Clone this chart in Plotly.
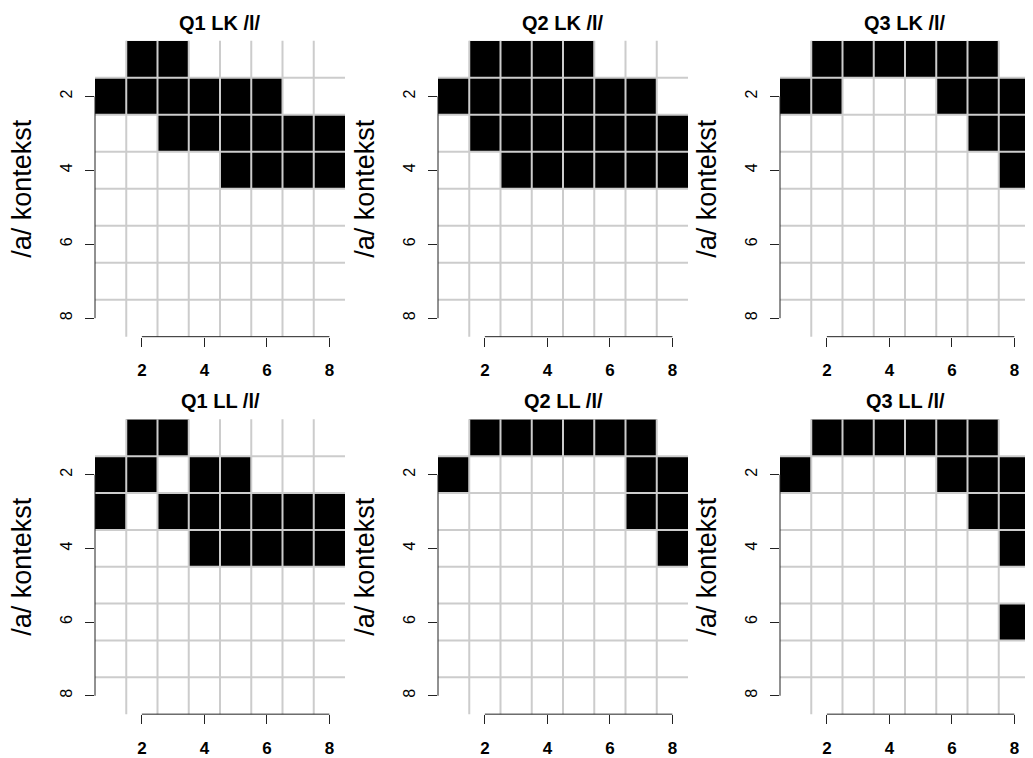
import plotly.graph_objects as go

# ---------------- data ----------------
cols = [1, 2, 3, 4, 5, 6, 7, 8]
rows = [1, 2, 3, 4, 5, 6, 7, 8]
tick_vals = [2, 4, 6, 8]
panel_titles = ["Q1 LK /l/", "Q2 LK /l/", "Q3 LK /l/",
                "Q1 LL /l/", "Q2 LL /l/", "Q3 LL /l/"]
y_title = "/a/ kontekst"

q1_lk = [
    [0, 1, 1, 0, 0, 0, 0, 0],
    [1, 1, 1, 1, 1, 1, 0, 0],
    [0, 0, 1, 1, 1, 1, 1, 1],
    [0, 0, 0, 0, 1, 1, 1, 1],
    [0, 0, 0, 0, 0, 0, 0, 0],
    [0, 0, 0, 0, 0, 0, 0, 0],
    [0, 0, 0, 0, 0, 0, 0, 0],
    [0, 0, 0, 0, 0, 0, 0, 0],
]
q2_lk = [
    [0, 1, 1, 1, 1, 0, 0, 0],
    [1, 1, 1, 1, 1, 1, 1, 0],
    [0, 1, 1, 1, 1, 1, 1, 1],
    [0, 0, 1, 1, 1, 1, 1, 1],
    [0, 0, 0, 0, 0, 0, 0, 0],
    [0, 0, 0, 0, 0, 0, 0, 0],
    [0, 0, 0, 0, 0, 0, 0, 0],
    [0, 0, 0, 0, 0, 0, 0, 0],
]
q3_lk = [
    [0, 1, 1, 1, 1, 1, 1, 0],
    [1, 1, 0, 0, 0, 1, 1, 1],
    [0, 0, 0, 0, 0, 0, 1, 1],
    [0, 0, 0, 0, 0, 0, 0, 1],
    [0, 0, 0, 0, 0, 0, 0, 0],
    [0, 0, 0, 0, 0, 0, 0, 0],
    [0, 0, 0, 0, 0, 0, 0, 0],
    [0, 0, 0, 0, 0, 0, 0, 0],
]
q1_ll = [
    [0, 1, 1, 0, 0, 0, 0, 0],
    [1, 1, 0, 1, 1, 0, 0, 0],
    [1, 0, 1, 1, 1, 1, 1, 1],
    [0, 0, 0, 1, 1, 1, 1, 1],
    [0, 0, 0, 0, 0, 0, 0, 0],
    [0, 0, 0, 0, 0, 0, 0, 0],
    [0, 0, 0, 0, 0, 0, 0, 0],
    [0, 0, 0, 0, 0, 0, 0, 0],
]
q2_ll = [
    [0, 1, 1, 1, 1, 1, 1, 0],
    [1, 0, 0, 0, 0, 0, 1, 1],
    [0, 0, 0, 0, 0, 0, 1, 1],
    [0, 0, 0, 0, 0, 0, 0, 1],
    [0, 0, 0, 0, 0, 0, 0, 0],
    [0, 0, 0, 0, 0, 0, 0, 0],
    [0, 0, 0, 0, 0, 0, 0, 0],
    [0, 0, 0, 0, 0, 0, 0, 0],
]
q3_ll = [
    [0, 1, 1, 1, 1, 1, 1, 0],
    [1, 0, 0, 0, 0, 1, 1, 1],
    [0, 0, 0, 0, 0, 0, 1, 1],
    [0, 0, 0, 0, 0, 0, 0, 1],
    [0, 0, 0, 0, 0, 0, 0, 0],
    [0, 0, 0, 0, 0, 0, 0, 1],
    [0, 0, 0, 0, 0, 0, 0, 0],
    [0, 0, 0, 0, 0, 0, 0, 0],
]
matrices = [q1_lk, q2_lk, q3_lk, q1_ll, q2_ll, q3_ll]

# ---------------- layout geometry ----------------
OFF = 8                      # default page margin of the html body
W, H = 1033 - OFF, 758 - OFF
x_px = [(95, 345), (438, 688), (780, 1030)]   # screen pixels
y_px = [(41, 338), (421, 717)]
FONT = "Liberation Sans, Arial, sans-serif"
GRID = "#cccccc"

fig = go.Figure()
layout = dict(
    width=W, height=H,
    margin=dict(l=0, r=0, t=0, b=0),
    paper_bgcolor="white", plot_bgcolor="white",
    showlegend=False,
    font=dict(family=FONT, color="black"),
)
shapes = []
annotations = []

for i, (z, title) in enumerate(zip(matrices, panel_titles)):
    r, c = divmod(i, 3)
    n = i + 1
    xa = "x" if n == 1 else f"x{n}"
    ya = "y" if n == 1 else f"y{n}"
    xkey = "xaxis" if n == 1 else f"xaxis{n}"
    ykey = "yaxis" if n == 1 else f"yaxis{n}"

    fig.add_trace(go.Heatmap(
        z=z, x=cols, y=rows,
        colorscale=[[0, "white"], [1, "black"]],
        zmin=0, zmax=1, showscale=False, hoverinfo="skip",
        xaxis=xa, yaxis=ya,
    ))

    x0, x1 = (v - OFF for v in x_px[c])
    yt, yb = (v - OFF for v in y_px[r])
    layout[xkey] = dict(
        domain=[x0 / W, min(x1 / W, 1)], anchor=ya,
        range=[cols[0] - 0.5, cols[-1] + 0.5],
        tickmode="array", tickvals=tick_vals, ticktext=[str(v) for v in tick_vals],
        ticks="outside", ticklen=9, tickwidth=1, tickcolor="#222222",
        tickfont=dict(size=17, family=FONT, color="black", weight="bold"),
        ticklabelstandoff=9,
        showgrid=False, zeroline=False, showline=False, fixedrange=True,
    )
    layout[ykey] = dict(
        domain=[1 - yb / H, 1 - yt / H], anchor=xa,
        range=[rows[-1] + 0.5, rows[0] - 0.5],
        tickmode="array", tickvals=tick_vals, ticktext=[str(v) for v in tick_vals],
        ticks="outside", ticklen=9, tickwidth=1, tickcolor="#222222",
        tickangle=-90,
        tickfont=dict(size=16, family=FONT, color="black"),
        ticklabelstandoff=7,
        showgrid=False, zeroline=False, showline=False, fixedrange=True,
    )

    # light grid between cells (drawn above the cells)
    for k in cols[:-1]:
        shapes.append(dict(type="line", layer="above",
                           xref=xa, x0=k + 0.5, x1=k + 0.5,
                           yref=f"{ya} domain", y0=0, y1=1,
                           line=dict(color=GRID, width=2)))
    for k in rows[:-1]:
        shapes.append(dict(type="line", layer="above",
                           yref=ya, y0=k + 0.5, y1=k + 0.5,
                           xref=f"{xa} domain", x0=0, x1=1,
                           line=dict(color=GRID, width=2)))

    # R-style axis lines spanning first to last tick
    shapes.append(dict(type="line", layer="above",
                       xref=xa, x0=tick_vals[0], x1=tick_vals[-1],
                       yref=f"{ya} domain", y0=0, y1=0,
                       line=dict(color="#222222", width=1)))
    shapes.append(dict(type="line", layer="above",
                       xref=f"{xa} domain", x0=0, x1=0,
                       yref=ya, y0=tick_vals[0], y1=tick_vals[-1],
                       line=dict(color="#222222", width=1)))

    # panel title
    annotations.append(dict(
        text=f"<b>{title}</b>", showarrow=False,
        xref=f"{xa} domain", x=0.5, xanchor="center",
        yref=f"{ya} domain", y=1, yanchor="middle", yshift=18,
        font=dict(size=20, family=FONT, color="black"),
    ))
    # y axis title
    annotations.append(dict(
        text=y_title, showarrow=False, textangle=-90,
        xref=f"{xa} domain", x=-(95 - 22) / (x1 - x0), xanchor="center",
        yref=f"{ya} domain", y=0.5, yanchor="middle",
        font=dict(size=27, family=FONT, color="black"),
    ))

layout["shapes"] = shapes
layout["annotations"] = annotations
fig.update_layout(**layout)
fig.write_html("out.html")
